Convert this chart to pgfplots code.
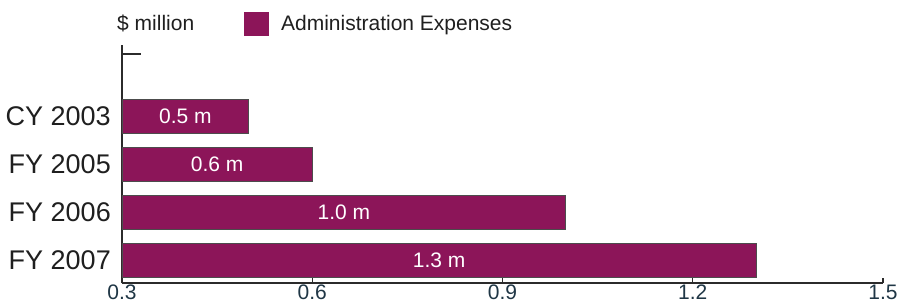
\documentclass[border=0pt]{standalone}
\usepackage{fontspec}
\setmainfont{Liberation Sans}
\usepackage{pgfplots}
\pgfplotsset{compat=1.18}
\definecolor{barcol}{HTML}{8C1559}
\definecolor{axcol}{HTML}{2B2B2B}
\definecolor{tickcol}{HTML}{1F3645}
\begin{document}
\begin{tikzpicture}
\path[use as bounding box] (-122pt,-25pt) rectangle (794pt,283pt);
\begin{axis}[
  at={(0,0)}, anchor=south west,
  scale only axis, width=761pt, height=238pt,
  xmin=0.3, xmax=1.5, ymin=0.52, ymax=5.5,
  axis x line*=bottom, axis y line*=left,
  axis line style={axcol, line width=2pt},
  xtick={0.3,0.6,0.9,1.2,1.5},
  /pgf/number format/assume math mode=true,
  xticklabel={\pgfmathprintnumber[fixed,precision=1,fixed zerofill]{\tick}},
  xticklabel style={font=\fontsize{21}{23}\selectfont, text=tickcol, inner ysep=2pt},
  x tick style={axcol, line width=1.4pt},
  major tick length=5pt, tick align=inside,
  ytick={1,2,3,4},
  yticklabels={FY 2007, FY 2006, FY 2005, CY 2003},
  y tick style={draw=none},
  yticklabel style={font=\fontsize{27}{29}\selectfont, text=black!88, inner xsep=0pt, xshift=-11pt},
  clip=true,
  legend style={at={(0.1603,1.090)}, anchor=west, draw=none, fill=none,
    inner sep=0pt, font=\fontsize{21}{23}\selectfont, text=black!88,
    nodes={inner sep=0pt},
    /tikz/every odd column/.append style={column sep=12pt}},
  legend image code/.code={\fill[barcol] (0pt,-11.5pt) rectangle (24pt,11.5pt);},
]
\addplot[xbar, bar width=34pt, bar shift=0pt, fill=barcol, draw=black!70, line width=0.9pt]
  coordinates {(1.3,1) (1.0,2) (0.6,3) (0.5,4)};
\addlegendentry{Administration Expenses}
\addplot[forget plot, draw=none, mark=none, nodes near coords, point meta=explicit symbolic,
  nodes near coords style={font=\fontsize{21}{23}\selectfont, text=white, anchor=center}]
  coordinates {(0.8,1) [1.3 m] (0.65,2) [1.0 m] (0.45,3) [0.6 m] (0.4,4) [0.5 m]};
\end{axis}
\draw[axcol, line width=2pt] (0,228.5pt) -- ++(19pt,0);
\node[anchor=west, inner sep=0pt, font=\fontsize{21}{23}\selectfont, text=black!88] at (-5pt,259.5pt) {\$ million};
\end{tikzpicture}
\end{document}
